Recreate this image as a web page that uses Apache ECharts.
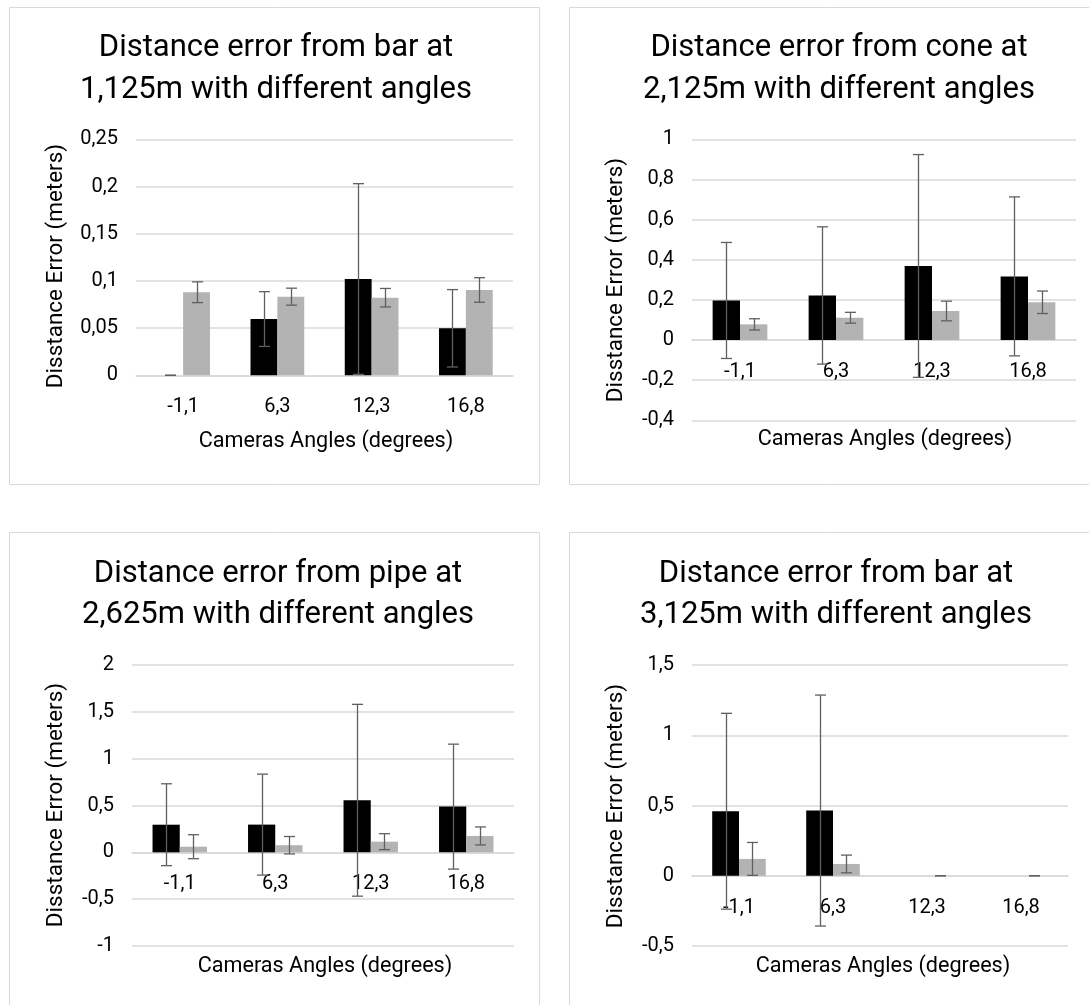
<!DOCTYPE html>
<html>
<head>
<meta charset="utf-8">
<script src="https://cdn.jsdelivr.net/npm/echarts@6/dist/echarts.min.js"></script>
<style>
html,body{margin:0;padding:0;background:#fff;}
#chart{width:1089px;height:1005px;}
</style>
</head>
<body>
<div id="chart"></div>
<script>
// ---- data ----
const categories = ['-1,1', '6,3', '12,3', '16,8'];

const p1Black = [0, 0.0596, 0.102, 0.0498];
const p1BlackErr = [0, 0.029, 0.101, 0.041];
const p1Gray = [0.088, 0.0833, 0.0822, 0.0904];
const p1GrayErr = [0.011, 0.009, 0.0098, 0.013];

const p2Black = [0.197, 0.222, 0.369, 0.317];
const p2BlackErr = [0.289, 0.342, 0.555, 0.396];
const p2Gray = [0.078, 0.111, 0.1445, 0.188];
const p2GrayErr = [0.028, 0.027, 0.049, 0.056];

const p3Black = [0.295, 0.296, 0.556, 0.488];
const p3BlackErr = [0.437, 0.539, 1.024, 0.667];
const p3Gray = [0.06, 0.076, 0.114, 0.175];
const p3GrayErr = [0.128, 0.093, 0.085, 0.096];

const p4Black = [0.459, 0.464, null, null];
const p4BlackErr = [0.697, 0.822, null, null];
const p4Gray = [0.12, 0.084, 0, 0];
const p4GrayErr = [0.117, 0.063, 0, 0];

// axis ranges [min, max, interval]
const p1Axis = [0, 0.25, 0.05];
const p2Axis = [-0.4, 1, 0.2];
const p3Axis = [-1, 2, 0.5];
const p4Axis = [-0.5, 1.5, 0.5];

const titles = [
  ['Distance error from bar at', '1,125m with different angles'],
  ['Distance error from cone at', '2,125m with different angles'],
  ['Distance error from pipe at', '2,625m with different angles'],
  ['Distance error from bar at', '3,125m with different angles']
];
const xTitle = 'Cameras Angles (degrees)';
const yTitle = 'Disstance Error (meters)';

// ---- layout ----
const FONT = 'Roboto';
const grids = [
  {left: 136, top: 139.3, width: 377, height: 236},
  {left: 692, top: 139.3, width: 384, height: 281},
  {left: 132, top: 665, width: 382, height: 281},
  {left: 692, top: 665, width: 376, height: 281}
];
const frames = [
  {x: 9.5, y: 7.5, w: 530, h: 477},
  {x: 569.5, y: 7.5, w: 540, h: 477},
  {x: 9.5, y: 532.5, w: 530, h: 520},
  {x: 569.5, y: 532.5, w: 540, h: 520}
];
const titlePos = [[276, 48, 90], [839, 48, 90], [278, 574, 615], [836, 574, 615]];
const xTitlePos = [[326, 442], [885, 440], [325, 967], [883, 967]];
const yTitlePos = [[56, 266], [616, 280], [56, 805], [616, 806]];

const panels = [
  {black: p1Black, be: p1BlackErr, gray: p1Gray, ge: p1GrayErr, axis: p1Axis},
  {black: p2Black, be: p2BlackErr, gray: p2Gray, ge: p2GrayErr, axis: p2Axis},
  {black: p3Black, be: p3BlackErr, gray: p3Gray, ge: p3GrayErr, axis: p3Axis},
  {black: p4Black, be: p4BlackErr, gray: p4Gray, ge: p4GrayErr, axis: p4Axis}
];

function fmt(v) {
  return String(Math.round(v * 1000) / 1000).replace('.', ',');
}

const BAR_FRAC = 0.285;
function makeErr(side) {
  return function (params, api) {
    const idx = api.value(0);
    const lo = api.value(1), hi = api.value(2);
    const band = api.size([1, 0])[0];
    const pLo = api.coord([idx, lo]);
    const pHi = api.coord([idx, hi]);
    const x = Math.round(pLo[0] + side * band * BAR_FRAC / 2) + 0.5;
    const cap = 5.5;
    const style = {stroke: '#606060', lineWidth: 1.3};
    return {
      type: 'group',
      children: [
        {type: 'line', shape: {x1: x, y1: pLo[1], x2: x, y2: pHi[1]}, style: style},
        {type: 'line', shape: {x1: x - cap, y1: pHi[1], x2: x + cap, y2: pHi[1]}, style: style},
        {type: 'line', shape: {x1: x - cap, y1: pLo[1], x2: x + cap, y2: pLo[1]}, style: style}
      ]
    };
  };
}
function errData(mean, err) {
  const out = [];
  for (let i = 0; i < mean.length; i++) {
    if (mean[i] === null) continue;
    out.push([i, mean[i] - err[i], mean[i] + err[i]]);
  }
  return out;
}

const xAxes = [], yAxes = [], series = [], graphic = [];
panels.forEach(function (p, i) {
  const g = grids[i];
  const xa = {
    type: 'category', gridIndex: i, data: categories,
    axisLine: {show: true, onZero: true, lineStyle: {color: '#d9d9d9', width: 1.5}},
    axisTick: {show: false},
    axisLabel: {margin: 22, fontSize: 20, fontFamily: FONT, color: '#000'},
    splitLine: {show: false}
  };
  if (p.axis[0] < 0) {
    xa.offset = -g.height * (0 - p.axis[0]) / (p.axis[1] - p.axis[0]);
    xa.axisLine.onZero = false;
  }
  xAxes.push(xa);
  yAxes.push({
    type: 'value', gridIndex: i, min: p.axis[0], max: p.axis[1], interval: p.axis[2],
    axisLine: {show: false}, axisTick: {show: false},
    axisLabel: {margin: 18, fontSize: 20, fontFamily: FONT, color: '#000', formatter: fmt},
    splitLine: {show: true, lineStyle: {color: '#d9d9d9', width: 1.5}}
  });
  series.push({
    type: 'bar', xAxisIndex: i, yAxisIndex: i, data: p.black,
    barWidth: (BAR_FRAC * 100) + '%', barGap: '0%',
    itemStyle: {color: '#000000'}, silent: true
  });
  series.push({
    type: 'bar', xAxisIndex: i, yAxisIndex: i, data: p.gray,
    barWidth: (BAR_FRAC * 100) + '%', barGap: '0%',
    itemStyle: {color: '#b3b3b3'}, silent: true
  });
  series.push({
    type: 'custom', xAxisIndex: i, yAxisIndex: i, renderItem: makeErr(-1),
    data: errData(p.black, p.be), encode: {x: 0, y: [1, 2]}, z: 5, silent: true
  });
  series.push({
    type: 'custom', xAxisIndex: i, yAxisIndex: i, renderItem: makeErr(1),
    data: errData(p.gray, p.ge), encode: {x: 0, y: [1, 2]}, z: 5, silent: true
  });

  const f = frames[i];
  graphic.push({type: 'rect', shape: {x: f.x, y: f.y, width: f.w, height: f.h},
    style: {fill: 'none', stroke: '#d9d9d9', lineWidth: 1}, z: -1});
  const tp = titlePos[i];
  graphic.push({type: 'text', x: tp[0], y: tp[1], style: {text: titles[i][0], fontSize: 31, fontFamily: FONT, fill: '#000', align: 'center', verticalAlign: 'middle'}});
  graphic.push({type: 'text', x: tp[0], y: tp[2], style: {text: titles[i][1], fontSize: 31, fontFamily: FONT, fill: '#000', align: 'center', verticalAlign: 'middle'}});
  graphic.push({type: 'text', x: xTitlePos[i][0], y: xTitlePos[i][1], style: {text: xTitle, fontSize: 21.6, fontFamily: FONT, fill: '#000', align: 'center', verticalAlign: 'middle'}});
  graphic.push({type: 'text', x: yTitlePos[i][0], y: yTitlePos[i][1], rotation: Math.PI / 2, style: {text: yTitle, fontSize: 22.5, fontFamily: FONT, fill: '#000', align: 'center', verticalAlign: 'middle'}});
});

const chart = echarts.init(document.getElementById('chart'), null, {renderer: 'canvas'});
chart.setOption({
  backgroundColor: '#ffffff',
  animation: false,
  grid: grids,
  xAxis: xAxes,
  yAxis: yAxes,
  series: series,
  graphic: graphic
});
</script>
</body>
</html>
